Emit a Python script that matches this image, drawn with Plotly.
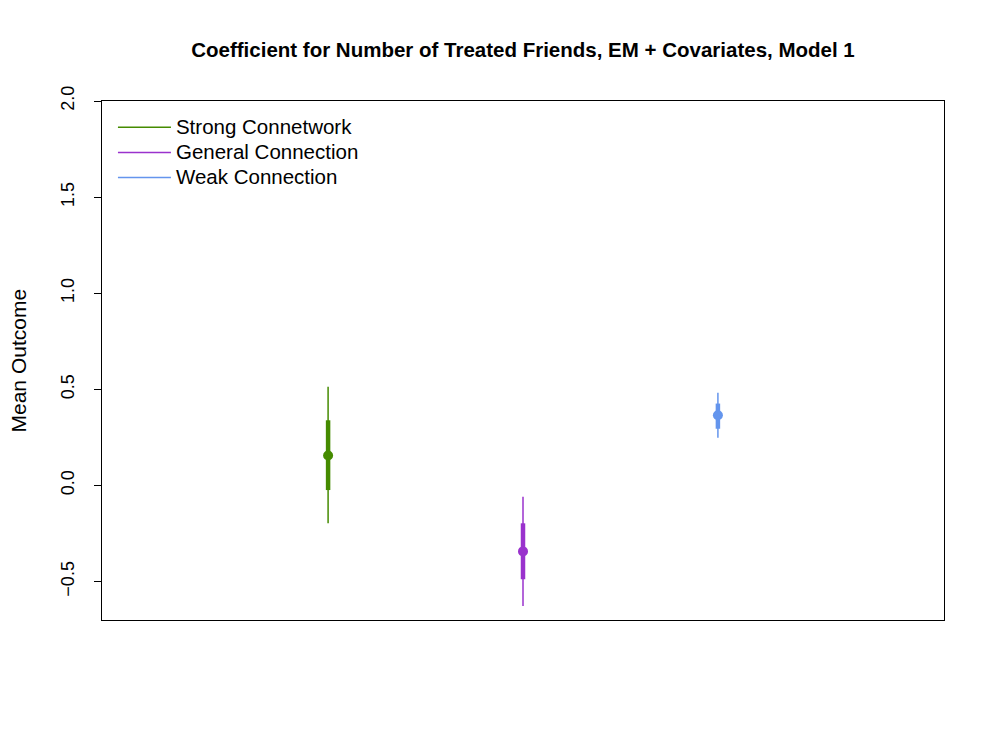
import plotly.graph_objects as go

# coefficient estimates with inner (thick) and outer (thin) intervals
groups = ["Strong Connetwork", "General Connection", "Weak Connection"]
xpos = [1, 2, 3]
est = [0.156, -0.343, 0.365]
inner_lo = [-0.024, -0.488, 0.295]
inner_hi = [0.339, -0.197, 0.426]
outer_lo = [-0.197, -0.627, 0.248]
outer_hi = [0.513, -0.059, 0.482]
colors = ["#458B00", "#9A32CD", "#6495ED"]

fig = go.Figure()

for i in range(len(groups)):
    # thin outer interval (also used as legend entry)
    fig.add_trace(go.Scatter(
        x=[xpos[i], xpos[i]], y=[outer_lo[i], outer_hi[i]],
        mode="lines", line=dict(color=colors[i], width=1.5),
        name='<span style="font-size:20.5px">%s</span>' % groups[i],
        showlegend=True, hoverinfo="skip"
    ))
    # thick inner interval
    fig.add_trace(go.Scatter(
        x=[xpos[i], xpos[i]], y=[inner_lo[i], inner_hi[i]],
        mode="lines", line=dict(color=colors[i], width=4.5),
        showlegend=False, hoverinfo="skip"
    ))
    # point estimate
    fig.add_trace(go.Scatter(
        x=[xpos[i]], y=[est[i]], mode="markers",
        marker=dict(color=colors[i], size=10),
        showlegend=False
    ))

# y-axis title as an annotation (standoff is ignored without automargin)
fig.add_annotation(
    text="Mean Outcome", textangle=-90,
    xref="paper", yref="paper", x=-0.0986, y=0.5,
    xanchor="center", yanchor="middle", showarrow=False,
    font=dict(size=21)
)

# page body has an 8px margin, so the figure sits at (8, 8)
fig.update_layout(
    width=997, height=747,
    paper_bgcolor="white", plot_bgcolor="white",
    margin=dict(l=94, r=61, t=93, b=135),
    font=dict(family="Liberation Sans, Arial, sans-serif", size=18, color="black"),
    title=dict(
        text="<b>Coefficient for Number of Treated Friends, EM + Covariates, Model 1</b>",
        x=0.5, xref="paper", xanchor="center",
        y=1 - 42 / 747, yref="container", yanchor="middle",
        font=dict(size=20.5)
    ),
    showlegend=True,
    legend=dict(
        x=0.013, y=0.983, xanchor="left", yanchor="top",
        bgcolor="rgba(0,0,0,0)", font=dict(size=17),
        tracegroupgap=0, itemwidth=53
    ),
    xaxis=dict(
        range=[-0.16, 4.16], showticklabels=False, ticks="",
        showgrid=False, zeroline=False, automargin=False,
        showline=True, linecolor="black", linewidth=1, mirror=True
    ),
    yaxis=dict(
        range=[-0.7, 2.0], tickvals=[-0.5, 0, 0.5, 1.0, 1.5, 2.0],
        ticktext=["\u22120.5", "0.0", "0.5", "1.0", "1.5", "2.0"],
        tickangle=-90, ticks="outside", ticklen=7, tickcolor="black",
        ticklabelstandoff=13, automargin=False,
        showgrid=False, zeroline=False,
        showline=True, linecolor="black", linewidth=1, mirror=True
    )
)

fig.write_html("out.html")
